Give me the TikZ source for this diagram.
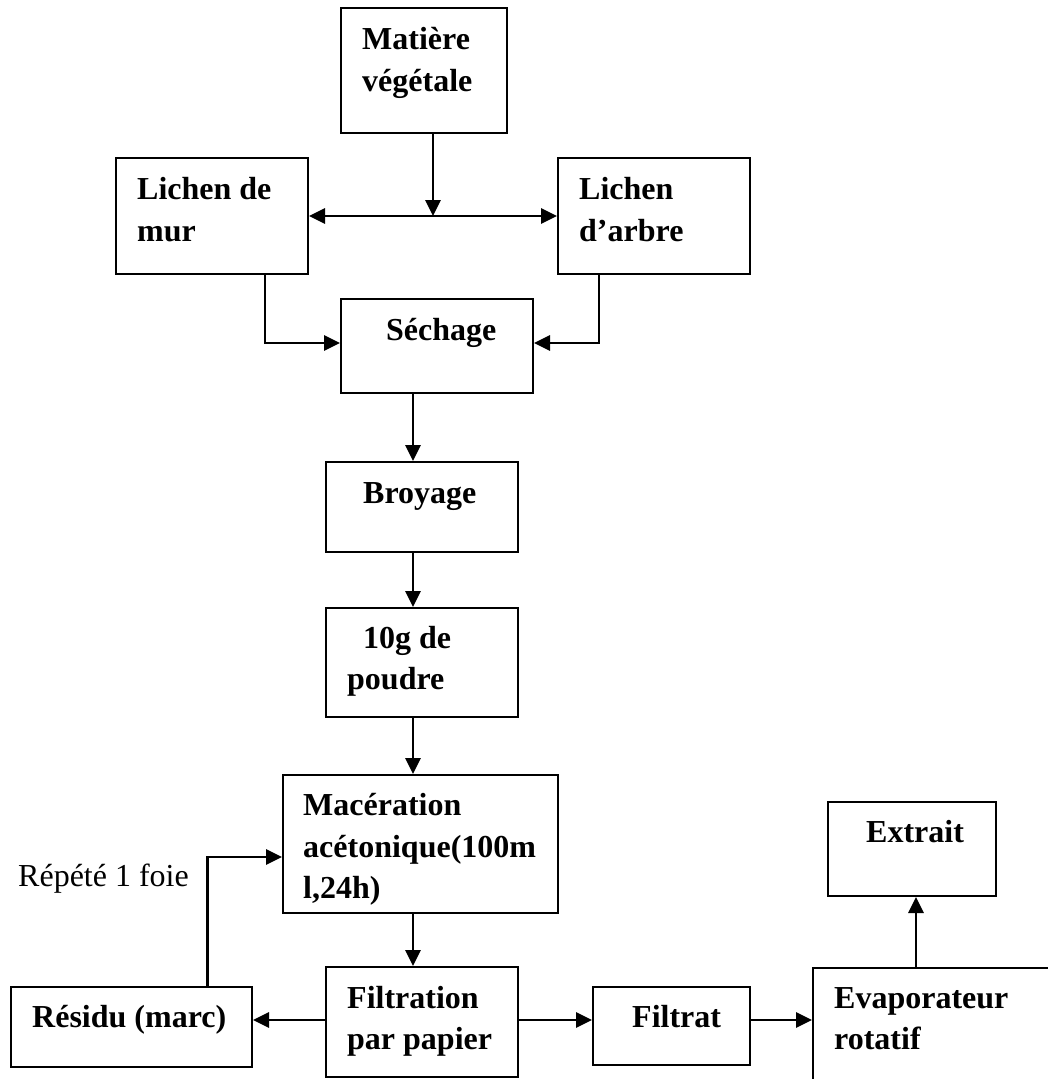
\documentclass[tikz,border=0pt]{standalone}
\usepackage{fontspec}
\setmainfont{Liberation Serif}
\usetikzlibrary{arrows.meta}
\tikzset{
  box/.style={draw, line width=2pt, inner sep=0pt, minimum width=#1},
  box/.default=192pt,
  arr/.style={line width=2.8pt, -{Triangle[length=16pt,width=15pt]}},
  txt/.style={anchor=base west, inner sep=0pt, font=\bfseries\fontsize{32}{41}\selectfont},
  rtxt/.style={anchor=base west, inner sep=0pt, font=\fontsize{32}{41}\selectfont},
}
\begin{document}
\begin{tikzpicture}[x=1pt,y=-1pt]
\clip (0,0) rectangle (1048,1079);
\fill[white] (0,0) rectangle (1048,1079);
% boxes
\node[box=166pt, minimum height=125pt] (mat) at (424,70.5) {};
\node[box, minimum height=116pt] (lm) at (212,216) {};
\node[box, minimum height=116pt] (la) at (654,216) {};
\node[box, minimum height=94pt] (sech) at (437,346) {};
\node[box, minimum height=90pt] (broy) at (422,507) {};
\node[box, minimum height=109pt] (pou) at (422,662.5) {};
\node[box=275pt, minimum height=138pt] (mac) at (420.5,844) {};
\node[box, minimum height=110pt] (fil) at (422,1022) {};
\node[box=241pt, minimum height=80pt] (res) at (131.5,1027) {};
\node[box=157pt, minimum height=78pt] (flt) at (671.5,1026) {};
\node[box=260pt, minimum height=140pt, anchor=north west] (evap) at (812,967) {};
\node[box=168pt, minimum height=94pt] (ext) at (912,849) {};
% texts
\node[txt] (t1) at (362,49) {Matière};
\node[txt] (t2) at (362,91) {végétale};
\node[txt] (t3) at (137,199) {Lichen de};
\node[txt] (t4) at (137,241) {mur};
\node[txt] (t5) at (579,199) {Lichen};
\node[txt] (t6) at (579,241) {d’arbre};
\node[txt] (t7) at (386,340) {Séchage};
\node[txt] (t8) at (363,503) {Broyage};
\node[txt] (t9) at (363,648) {10g de};
\node[txt] (t10) at (347,689) {poudre};
\node[txt] (t11) at (303,815) {Macération};
\node[txt] (t12) at (303,857) {acétonique(100m};
\node[txt] (t13) at (303,898) {l,24h)};
\node[rtxt] (t14) at (18,886) {Répété 1 foie};
\node[txt] (t15) at (347,1008) {Filtration};
\node[txt] (t16) at (347,1049) {par papier};
\node[txt] (t17) at (32,1027) {Résidu (marc)};
\node[txt] (t18) at (632,1027) {Filtrat};
\node[txt] (t19) at (834,1008) {Evaporateur};
\node[txt] (t20) at (834,1049) {rotatif};
\node[txt] (t21) at (866,842) {Extrait};
% connectors
\coordinate (j) at ([xshift=9pt]mat.south |- lm.east);
\draw[arr] ([xshift=9pt]mat.south) -- (j);
\draw[arr] (j) -- (lm.east);
\draw[arr] (j) -- (la.west);
\draw[arr] ([xshift=53pt]lm.south) |- ([yshift=3pt]sech.west);
\draw[arr] ([xshift=-55pt]la.south) |- ([yshift=3pt]sech.east);
\draw[arr] ([xshift=-9pt]broy.north |- sech.south) -- ([xshift=-9pt]broy.north);
\draw[arr] ([xshift=-9pt]broy.south) -- ([xshift=-9pt]pou.north);
\draw[arr] ([xshift=-9pt]pou.south) -- ([xshift=-9pt]pou.south |- mac.north);
\draw[arr] ([xshift=-9pt]fil.north |- mac.south) -- ([xshift=-9pt]fil.north);
\draw[arr] ([yshift=2pt]fil.west) -- ([yshift=2pt]fil.west -| res.east);
\draw[arr] ([xshift=76pt]res.north) |- ([yshift=-13pt]mac.west);
\draw[arr] ([yshift=2pt]fil.east) -- ([yshift=2pt]fil.east -| flt.west);
\draw[arr] ([yshift=6pt]flt.east) -- ([yshift=6pt]flt.east -| evap.west);
\draw[arr] ([xshift=4pt]ext.south |- evap.north) -- ([xshift=4pt]ext.south);
\end{tikzpicture}
\end{document}
